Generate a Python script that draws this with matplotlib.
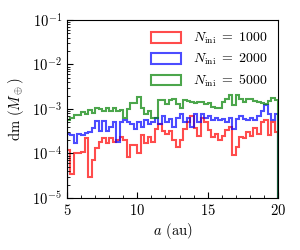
import numpy as np
import matplotlib
matplotlib.use("Agg")
import matplotlib.pyplot as plt
from matplotlib.patches import Patch

plt.rcParams["font.family"] = "serif"
plt.rcParams["font.serif"] = ["cmr10"]
plt.rcParams["mathtext.fontset"] = "cm"
plt.rcParams["axes.formatter.use_mathtext"] = True
plt.rcParams["font.size"] = 10.5

# histogram bin edges (au)
edges = np.linspace(5, 20, 61)

# dm per bin (M_earth)
dm_1000 = [1.2e-4, 3.5e-5, 1.0e-4, 1.0e-4, 1.1e-4, 2.2e-4, 3.0e-5, 7.1e-5, 1.3e-4, 1.8e-4,
           2.2e-4, 1.7e-4, 2.2e-4, 1.8e-4, 2.0e-4, 2.3e-4, 2.0e-4, 8.3e-5, 1.55e-4, 1.55e-4,
           1.0e-4, 2.6e-4, 1.7e-4, 2.3e-4, 1.8e-4, 3.5e-4, 4.5e-4, 3.2e-4, 2.8e-4, 3.2e-4,
           2.0e-4, 1.4e-4, 2.0e-4, 3.5e-4, 5.0e-4, 7.1e-4, 3.7e-4, 2.5e-4, 6.3e-4, 5.0e-4,
           3.4e-4, 2.3e-4, 2.8e-4, 2.0e-4, 2.5e-4, 3.4e-4, 4.0e-4, 9.3e-5, 1.4e-4, 2.3e-4,
           2.2e-4, 3.0e-4, 2.5e-4, 3.7e-4, 2.8e-4, 5.1e-4, 5.6e-4, 2.6e-4, 5.0e-4, 3.0e-4]

dm_2000 = [2.75e-4, 2.6e-4, 1.7e-4, 2.75e-4, 2.6e-4, 2.9e-4, 3.0e-4, 3.7e-4, 5.4e-4, 3.2e-4,
           5.4e-4, 3.2e-4, 4.0e-4, 5.0e-4, 1.8e-4, 5.0e-4, 5.6e-4, 5.0e-4, 4.5e-4, 3.5e-4,
           5.0e-4, 4.0e-4, 5.6e-4, 4.5e-4, 5.0e-4, 6.3e-4, 4.5e-4, 7.1e-4, 5.0e-4, 6.0e-4,
           4.0e-4, 6.3e-4, 7.9e-4, 5.0e-4, 6.3e-4, 4.0e-4, 7.9e-4, 5.0e-4, 7.6e-4, 6.3e-4,
           7.1e-4, 5.6e-4, 6.3e-4, 5.6e-4, 6.0e-4, 5.0e-4, 6.3e-4, 3.5e-4, 6.0e-4, 7.1e-4,
           6.0e-4, 5.6e-4, 6.3e-4, 5.6e-4, 7.1e-4, 8.9e-4, 1.26e-3, 7.9e-4, 5.6e-4, 7.9e-4]

dm_5000 = [5.6e-4, 6.3e-4, 7.4e-4, 7.4e-4, 8.7e-4, 7.9e-4, 9.5e-4, 8.3e-4, 1.05e-3, 1.0e-3,
           8.9e-4, 1.05e-3, 8.9e-4, 1.05e-3, 8.9e-4, 9.5e-4, 6.3e-4, 1.0e-3, 1.35e-3, 1.35e-3,
           1.86e-3, 1.05e-3, 7.6e-4, 8.9e-4, 6.3e-4, 6.3e-4, 1.58e-3, 1.58e-3, 1.32e-3, 1.58e-3,
           1.66e-3, 1.32e-3, 1.05e-3, 1.58e-3, 1.51e-3, 1.41e-3, 1.38e-3, 1.41e-3, 1.41e-3, 1.32e-3,
           1.38e-3, 1.12e-3, 1.05e-3, 1.05e-3, 1.41e-3, 1.66e-3, 2.1e-3, 1.26e-3, 2.1e-3, 1.66e-3,
           1.41e-3, 1.66e-3, 1.66e-3, 1.51e-3, 1.41e-3, 1.38e-3, 1.32e-3, 1.51e-3, 1.78e-3, 1.58e-3]

series = [(dm_1000, "red", r"$N_{\rm ini}\;=\;1000$"),
          (dm_2000, "blue", r"$N_{\rm ini}\;=\;2000$"),
          (dm_5000, "green", r"$N_{\rm ini}\;=\;5000$")]

fig = plt.figure(figsize=(3, 2.5), dpi=100)
ax = fig.add_axes([0.223, 0.208, 0.704, 0.712])

handles = []
for vals, col, lab in series:
    ax.stairs(vals, edges, color=col, lw=1.5, alpha=0.7)
    handles.append(Patch(facecolor="none", edgecolor=col, lw=1.5, alpha=0.7, label=lab))

ax.set_yscale("log")
ax.set_xlim(5, 20)
ax.set_ylim(1e-5, 1e-1)
ax.set_xticks([5, 10, 15, 20])
ax.set_xticks(np.arange(5, 21, 1), minor=True)
ax.tick_params(which="both", direction="in", top=False, right=False)
ax.tick_params(which="major", length=4.5)
ax.tick_params(which="minor", length=2.5)

ax.set_xlabel(r"$a$ (au)", labelpad=2)
ax.set_ylabel(r"dm $(M_\oplus)$")

ax.legend(handles=handles, loc="upper right", frameon=False, fontsize=10,
          handlelength=2.2, handleheight=0.8, borderaxespad=0.4, labelspacing=0.4,
          handletextpad=0.8)

fig.savefig("out.png", dpi=100)
